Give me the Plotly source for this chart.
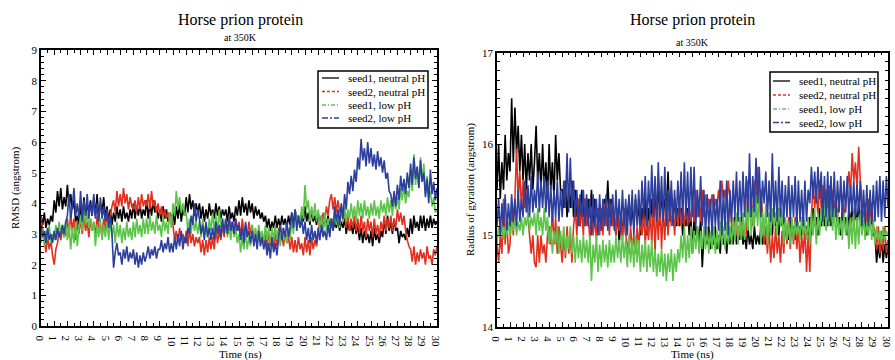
import plotly.graph_objects as go

TIME_STEP_NS = 0.125
SERIES_NAMES = ["seed1, neutral pH", "seed2, neutral pH", "seed1, low pH", "seed2, low pH"]

rmsd_seed1_neutral = [
    3.6, 3.3, 3.7, 3.2, 3.5, 3.3, 3.6, 3.4, 4.1, 3.7, 4.4, 3.9, 4.5, 3.8, 4.2, 3.9,
    4.6, 3.9, 4.3, 3.8, 4.1, 3.4, 3.6, 3.3, 3.9, 3.5, 4.2, 3.6, 4.0, 3.7, 4.1, 3.6,
    4.2, 3.6, 4.3, 3.5, 4.0, 3.7, 4.2, 3.5, 3.9, 3.4, 3.8, 3.3, 3.7, 3.4, 3.9, 3.5,
    3.8, 3.4, 3.9, 3.5, 3.7, 3.4, 3.8, 3.5, 4.0, 3.5, 3.9, 3.6, 4.0, 3.5, 3.8, 3.6,
    4.1, 3.5, 4.0, 3.6, 4.1, 3.7, 3.9, 3.5, 3.8, 3.4, 3.9, 3.5, 3.8, 3.4, 3.7, 3.5,
    3.7, 3.3, 3.9, 3.5, 4.0, 3.4, 3.8, 3.6, 4.2, 3.7, 4.3, 3.8, 4.1, 3.6, 4.0, 3.7,
    4.0, 3.5, 3.9, 3.4, 3.8, 3.5, 4.0, 3.6, 3.8, 3.5, 4.0, 3.6, 3.9, 3.5, 3.8, 3.6,
    3.8, 3.4, 3.9, 3.5, 3.7, 3.4, 3.9, 3.6, 4.1, 3.6, 4.2, 3.7, 4.0, 3.6, 4.1, 3.7,
    4.0, 3.5, 3.9, 3.6, 3.8, 3.5, 3.7, 3.4, 3.6, 3.2, 3.5, 3.1, 3.4, 3.2, 3.6, 3.2,
    3.5, 3.2, 3.6, 3.3, 3.5, 3.2, 3.6, 3.3, 3.7, 3.3, 3.8, 3.4, 3.6, 3.3, 3.7, 3.4,
    3.9, 3.4, 3.7, 3.3, 3.8, 3.4, 3.6, 3.3, 3.7, 3.3, 3.6, 3.2, 3.5, 3.3, 3.6, 3.2,
    3.5, 3.1, 3.4, 3.2, 3.5, 3.1, 3.4, 3.2, 3.5, 3.0, 3.4, 3.1, 3.3, 3.0, 3.4, 3.0,
    3.3, 2.8, 3.2, 2.7, 3.1, 2.8, 3.0, 2.7, 3.1, 2.6, 3.2, 2.8, 3.0, 2.7, 3.1, 2.9,
    3.5, 3.0, 3.6, 3.1, 3.4, 3.0, 3.5, 3.1, 3.2, 2.7, 3.1, 2.9, 3.0, 2.8, 3.2, 2.9,
    3.5, 3.0, 3.6, 3.2, 3.4, 3.1, 3.6, 3.2, 3.6, 3.1, 3.5, 3.2, 3.6, 3.2, 3.5, 3.3,
    3.4]
rmsd_seed2_neutral = [
    3.6, 3.1, 2.8, 2.4, 2.9, 2.5, 2.8, 2.3, 2.0, 2.5, 2.7, 3.1, 2.8, 3.2, 2.9, 3.0,
    3.5, 2.9, 3.7, 3.1, 3.5, 2.8, 3.4, 3.0, 3.5, 3.0, 3.6, 3.1, 3.4, 2.9, 3.5, 3.1,
    3.4, 2.9, 3.6, 3.2, 3.3, 2.9, 3.5, 3.1, 3.7, 3.3, 3.6, 3.9, 4.1, 3.7, 4.4, 3.9,
    4.3, 3.9, 4.5, 4.0, 4.3, 3.8, 4.2, 3.9, 3.8, 4.1, 3.7, 4.2, 3.8, 4.3, 3.9, 4.1,
    3.9, 4.3, 3.8, 4.4, 3.9, 4.1, 3.7, 4.0, 3.6, 3.9, 3.5, 3.8, 3.5, 3.7, 3.4, 3.6,
    3.3, 2.8, 3.1, 2.7, 3.2, 2.8, 3.0, 2.7, 3.1, 2.6, 3.2, 2.7, 3.0, 2.6, 2.9, 2.7,
    2.9, 2.4, 2.8, 2.3, 2.8, 2.4, 2.9, 2.5, 2.9, 2.5, 3.2, 2.7, 3.1, 2.8, 3.3, 2.9,
    3.5, 3.0, 3.6, 3.1, 3.4, 3.0, 3.5, 3.1, 3.4, 2.9, 3.5, 3.0, 3.3, 2.9, 3.4, 3.0,
    3.3, 2.8, 3.1, 2.7, 3.2, 2.8, 3.0, 2.7, 3.0, 2.5, 3.1, 2.6, 2.9, 2.5, 3.0, 2.6,
    3.2, 2.7, 3.0, 2.6, 3.1, 2.7, 2.9, 2.5, 2.9, 2.4, 2.8, 2.4, 2.9, 2.5, 2.7, 2.3,
    2.9, 2.4, 2.8, 2.3, 2.9, 2.5, 2.8, 2.6, 3.0, 3.5, 3.2, 3.7, 3.4, 3.9, 3.6, 4.1,
    4.3, 3.8, 4.2, 3.7, 4.1, 3.7, 3.9, 3.6, 3.7, 3.2, 3.6, 3.1, 3.5, 3.2, 3.6, 3.1,
    3.5, 3.0, 3.6, 3.1, 3.4, 2.9, 3.5, 3.1, 3.4, 2.9, 3.5, 3.0, 3.3, 2.9, 3.4, 3.1,
    3.6, 3.1, 3.5, 3.2, 3.6, 3.1, 3.5, 3.2, 3.8, 3.4, 3.7, 3.3, 3.6, 3.1, 2.8, 2.6,
    2.5, 2.1, 2.6, 2.0, 2.4, 2.1, 2.5, 2.2, 2.4, 2.0, 2.6, 2.2, 2.3, 2.0, 2.5, 2.3,
    2.6]
rmsd_seed1_low = [
    2.7, 3.2, 2.6, 3.1, 2.8, 3.3, 2.7, 3.0, 2.8, 3.3, 2.9, 3.4, 3.0, 3.3, 2.9, 3.4,
    2.8, 3.3, 2.5, 3.2, 2.7, 3.4, 2.6, 3.2, 3.6, 3.1, 3.9, 3.3, 3.7, 3.2, 3.5, 3.1,
    3.4, 2.6, 3.3, 2.9, 3.5, 2.8, 3.3, 2.9, 3.4, 2.8, 3.5, 2.9, 3.3, 2.7, 3.4, 2.9,
    3.3, 2.7, 3.2, 2.8, 3.4, 2.9, 3.2, 2.8, 3.4, 2.9, 3.5, 3.0, 3.3, 2.9, 3.5, 3.0,
    3.5, 3.0, 3.6, 3.1, 3.4, 3.0, 3.6, 3.1, 3.3, 2.9, 3.6, 3.1, 3.4, 3.0, 3.7, 3.2,
    4.0, 3.6, 4.4, 3.8, 4.2, 3.7, 4.0, 3.6, 3.7, 3.1, 3.5, 3.0, 3.6, 3.1, 3.4, 3.0,
    3.4, 2.9, 3.5, 3.0, 3.3, 2.9, 3.5, 3.1, 3.7, 3.1, 3.6, 3.0, 3.8, 3.2, 3.5, 3.0,
    3.5, 2.9, 3.3, 2.8, 3.4, 2.9, 3.2, 2.7, 3.0, 2.4, 2.9, 2.5, 3.1, 2.5, 2.9, 2.6,
    3.3, 2.8, 3.2, 2.7, 3.3, 2.8, 3.1, 2.7, 3.3, 2.8, 3.2, 2.7, 3.2, 2.8, 3.3, 2.8,
    3.1, 2.6, 3.2, 2.8, 3.0, 2.7, 3.2, 2.8, 3.5, 3.0, 3.8, 3.4, 3.6, 3.2, 3.9, 3.5,
    4.6, 3.8, 4.1, 3.4, 3.9, 3.5, 4.0, 3.4, 3.8, 3.2, 3.6, 3.0, 3.7, 3.1, 3.5, 3.0,
    3.5, 3.1, 3.8, 3.3, 3.6, 3.2, 3.8, 3.4, 3.9, 3.4, 3.8, 3.5, 4.0, 3.5, 3.9, 3.4,
    4.1, 3.6, 4.0, 3.5, 4.1, 3.6, 3.9, 3.5, 4.0, 3.6, 4.1, 3.6, 3.9, 3.5, 4.1, 3.7,
    4.0, 3.6, 4.2, 3.7, 4.1, 3.6, 4.2, 3.8, 4.2, 3.8, 4.5, 4.1, 4.6, 4.0, 4.4, 4.2,
    5.1, 4.4, 5.6, 4.6, 5.2, 4.5, 5.5, 4.7, 5.3, 4.3, 4.9, 4.2, 4.4, 3.9, 4.2, 3.7,
    3.8]
rmsd_seed2_low = [
    3.3, 2.9, 3.1, 2.7, 3.2, 2.8, 3.0, 2.7, 3.1, 2.8, 3.2, 2.9, 3.0, 3.3, 3.0, 3.4,
    3.6, 4.3, 3.5, 3.9, 4.5, 3.6, 4.0, 3.5, 4.4, 3.4, 4.1, 3.6, 4.3, 3.5, 4.0, 3.6,
    4.3, 3.5, 4.0, 3.4, 4.2, 3.5, 3.9, 3.4, 3.8, 3.2, 3.6, 3.0, 1.9, 2.4, 2.7, 2.3,
    2.4, 2.0, 2.5, 2.2, 2.6, 2.1, 2.4, 2.2, 2.5, 2.0, 2.4, 1.9, 2.3, 2.0, 2.4, 2.1,
    2.3, 2.6, 2.2, 2.5, 2.3, 2.6, 2.2, 2.5, 2.5, 2.8, 2.4, 2.7, 2.5, 2.9, 2.4, 2.7,
    2.4, 2.9, 2.5, 3.0, 2.6, 3.1, 2.5, 2.9, 2.7, 3.2, 3.0, 3.6, 3.3, 4.0, 3.4, 3.8,
    3.5, 3.0, 3.3, 2.8, 3.4, 2.9, 3.2, 2.8, 3.2, 2.8, 3.4, 3.0, 3.3, 2.9, 3.5, 3.0,
    3.5, 3.0, 3.6, 3.1, 3.4, 3.0, 3.5, 3.1, 3.3, 2.8, 3.2, 2.7, 3.4, 2.9, 3.1, 2.7,
    3.1, 2.6, 3.0, 2.5, 3.1, 2.6, 2.9, 2.5, 2.8, 2.3, 2.7, 2.2, 2.9, 2.4, 2.7, 2.3,
    2.9, 3.3, 2.8, 3.2, 2.9, 3.4, 2.9, 3.2, 3.7, 3.2, 3.8, 3.1, 3.6, 3.2, 3.5, 3.0,
    3.4, 2.8, 3.2, 2.7, 3.3, 2.8, 3.1, 2.7, 3.2, 2.8, 3.3, 2.9, 3.1, 2.8, 3.3, 2.9,
    3.5, 3.1, 3.9, 3.4, 3.8, 3.3, 4.0, 3.5, 4.3, 3.8, 4.7, 4.3, 4.9, 4.4, 5.1, 4.7,
    5.5, 5.1, 6.1, 5.4, 5.8, 5.2, 6.0, 5.3, 5.8, 5.2, 5.6, 5.1, 5.7, 5.2, 5.5, 5.0,
    5.4, 4.8, 5.0, 4.4, 4.3, 3.9, 4.4, 3.9, 4.6, 4.1, 4.9, 4.4, 4.8, 4.3, 5.0, 4.5,
    5.3, 4.6, 5.5, 4.8, 5.2, 4.5, 5.4, 4.7, 5.0, 4.2, 4.8, 4.0, 5.1, 4.3, 4.7, 4.1,
    4.5]

rg_seed1_neutral = [
    15.5, 16.0, 15.4, 15.8, 15.5, 16.1, 15.6, 15.9, 15.7, 16.5, 15.8, 16.4, 15.9, 16.2, 15.7, 16.1,
    15.6, 16.0, 15.5, 15.9, 15.6, 16.0, 15.5, 15.8, 16.2, 15.6, 15.9, 15.5, 16.0, 15.5, 15.8, 15.4,
    16.0, 15.5, 15.8, 15.4, 16.1, 15.6, 15.9, 15.5, 15.5, 15.3, 15.6, 15.2, 15.5, 15.3, 15.6, 15.2,
    15.5, 15.2, 15.4, 15.1, 15.5, 15.2, 15.4, 15.2, 15.4, 15.2, 15.5, 15.1, 15.4, 15.2, 15.3, 15.1,
    15.3, 15.1, 15.4, 15.2, 15.6, 15.2, 15.4, 15.1, 15.2, 15.0, 15.3, 14.9, 15.2, 15.0, 15.3, 15.0,
    15.2, 15.4, 15.1, 15.3, 15.1, 15.4, 15.2, 15.3, 15.0, 15.3, 15.1, 15.4, 15.0, 15.3, 15.1, 15.4,
    15.1, 15.5, 15.2, 15.6, 15.1, 15.5, 15.2, 15.4, 15.3, 15.7, 15.2, 15.5, 15.2, 15.4, 15.1, 15.3,
    15.1, 15.3, 15.0, 15.2, 15.1, 15.3, 15.0, 15.2, 14.8, 15.2, 15.0, 15.1, 14.9, 15.2, 14.65, 15.0,
    15.0, 14.9, 15.1, 14.85, 15.0, 14.9, 15.1, 14.85, 15.0, 14.8, 15.1, 14.9, 15.0, 14.8, 15.1, 14.9,
    15.1, 14.9, 15.2, 14.9, 15.1, 14.95, 15.2, 14.9, 15.0, 14.85, 15.1, 14.9, 15.0, 14.85, 15.1, 14.9,
    15.0, 14.9, 15.1, 14.9, 15.0, 14.9, 15.1, 14.95, 15.2, 15.0, 15.3, 15.1, 15.2, 15.0, 15.3, 15.1,
    15.2, 15.0, 15.1, 14.95, 15.2, 15.0, 15.1, 14.95, 15.2, 15.0, 15.1, 15.0, 15.2, 15.0, 15.1, 15.0,
    15.2, 15.0, 15.3, 15.1, 15.2, 15.0, 15.3, 15.1, 15.3, 15.1, 15.4, 15.1, 15.3, 15.1, 15.4, 15.2,
    15.3, 15.1, 15.2, 15.0, 15.3, 15.1, 15.2, 15.0, 15.3, 15.1, 15.35, 15.1, 15.3, 15.1, 15.35, 15.15,
    15.3, 15.1, 15.2, 15.0, 15.3, 15.1, 15.2, 15.0, 15.0, 14.7, 14.9, 14.75, 15.0, 14.7, 14.9, 14.75,
    14.9]
rg_seed2_neutral = [
    14.9, 14.7, 15.0, 14.8, 15.4, 14.9, 15.2, 14.8, 14.9, 15.3, 15.0, 15.4, 15.95, 15.4, 15.7, 15.3,
    15.6, 15.3, 15.5, 15.2, 15.0, 14.8, 15.0, 14.7, 14.65, 15.0, 14.7, 15.0, 14.8, 14.9, 14.7, 15.0,
    15.1, 14.9, 15.3, 14.9, 15.2, 14.8, 15.1, 14.9, 14.7, 15.0, 14.75, 15.1, 14.8, 15.0, 14.7, 15.1,
    15.3, 15.0, 15.4, 15.1, 15.3, 15.0, 15.4, 15.1, 15.2, 14.95, 15.3, 15.0, 15.2, 14.95, 15.3, 15.0,
    15.3, 15.0, 15.35, 15.1, 15.3, 15.0, 15.35, 15.1, 15.2, 15.0, 15.3, 15.05, 15.2, 14.95, 15.3, 15.0,
    14.9, 14.8, 15.1, 14.85, 15.0, 14.8, 15.1, 14.85, 15.2, 15.0, 15.25, 14.9, 15.2, 14.95, 15.25, 14.9,
    15.4, 14.8, 15.3, 14.95, 15.4, 14.85, 15.3, 14.95, 15.35, 15.0, 15.3, 15.1, 15.35, 15.0, 15.3, 15.1,
    15.35, 15.1, 15.3, 15.1, 15.35, 15.1, 15.3, 15.15, 15.4, 15.15, 15.5, 15.2, 15.4, 15.15, 15.5, 15.2,
    15.45, 15.25, 15.4, 15.3, 15.45, 15.25, 15.4, 15.3, 15.5, 15.35, 15.6, 15.4, 15.5, 15.35, 15.6, 15.4,
    15.1, 15.0, 15.15, 15.0, 15.1, 15.0, 15.15, 15.0, 15.1, 15.0, 15.6, 15.2, 15.4, 15.1, 15.6, 15.2,
    15.75, 15.3, 15.5, 15.2, 14.9, 15.1, 14.8, 15.1, 14.7, 15.0, 14.75, 15.1, 14.8, 15.0, 14.7, 15.05,
    14.8, 15.15, 14.9, 15.2, 14.85, 15.15, 14.9, 15.2, 14.85, 15.1, 14.7, 15.0, 14.8, 15.1, 14.6, 15.0,
    14.6, 15.2, 15.6, 15.3, 15.5, 15.2, 15.6, 15.3, 15.55, 15.25, 15.5, 15.3, 15.55, 15.25, 15.5, 15.3,
    15.4, 15.2, 15.35, 15.5, 15.4, 15.2, 15.35, 15.5, 15.7, 15.45, 15.9, 15.6, 15.8, 15.5, 15.97, 15.6,
    15.4, 15.15, 15.35, 15.1, 15.4, 15.15, 15.35, 15.1, 15.05, 14.85, 15.1, 14.8, 15.05, 14.85, 15.1, 14.8,
    14.95]
rg_seed1_low = [
    14.9, 15.1, 15.0, 15.1, 14.95, 15.1, 15.0, 15.15, 15.0, 15.15, 15.05, 15.2, 15.0, 15.15, 15.05, 15.2,
    15.0, 15.2, 15.1, 15.25, 15.05, 15.2, 15.1, 15.25, 15.0, 15.3, 15.05, 15.2, 15.0, 15.3, 15.05, 15.2,
    14.9, 15.1, 14.8, 15.05, 14.9, 15.1, 14.8, 15.05, 14.85, 15.1, 14.8, 15.0, 14.85, 15.1, 14.8, 15.0,
    14.7, 15.0, 14.75, 14.95, 14.7, 15.0, 14.75, 14.95, 14.7, 15.0, 14.5, 14.9, 14.7, 15.0, 14.6, 14.9,
    14.65, 14.95, 14.7, 14.9, 14.65, 14.95, 14.7, 14.9, 14.7, 15.0, 14.75, 14.95, 14.7, 15.0, 14.75, 14.95,
    14.65, 15.0, 14.7, 14.95, 14.65, 15.0, 14.7, 14.95, 14.6, 14.9, 14.65, 14.95, 14.6, 14.9, 14.65, 14.95,
    14.6, 14.85, 14.55, 14.8, 14.6, 14.85, 14.55, 14.8, 14.5, 14.8, 14.6, 14.85, 14.5, 14.8, 14.6, 14.85,
    14.7, 15.0, 14.75, 15.1, 14.7, 15.0, 14.75, 15.1, 14.8, 15.05, 14.85, 15.1, 14.8, 15.05, 14.85, 15.1,
    14.85, 15.1, 14.8, 15.05, 14.85, 15.1, 14.8, 15.05, 14.85, 15.15, 14.9, 15.1, 14.85, 15.15, 14.9, 15.1,
    14.9, 15.2, 14.95, 15.25, 14.9, 15.2, 14.95, 15.25, 14.95, 15.3, 15.05, 15.45, 15.0, 15.3, 15.1, 15.45,
    15.1, 15.5, 14.9, 15.25, 15.0, 15.35, 14.9, 15.25, 15.0, 15.3, 15.1, 15.25, 15.0, 15.3, 15.1, 15.25,
    14.9, 15.2, 14.95, 15.15, 14.9, 15.2, 14.95, 15.15, 15.0, 15.15, 14.95, 15.2, 15.0, 15.15, 14.95, 15.2,
    14.9, 15.25, 15.0, 15.3, 14.9, 15.25, 15.0, 15.3, 15.1, 15.4, 15.05, 15.3, 15.1, 15.4, 15.05, 15.3,
    14.95, 15.25, 15.0, 15.2, 14.95, 15.25, 15.0, 15.2, 14.85, 15.2, 14.9, 15.25, 14.85, 15.2, 14.9, 15.25,
    15.0, 15.2, 14.95, 15.15, 15.0, 15.2, 14.95, 15.15, 14.9, 15.1, 14.95, 15.05, 14.9, 15.1, 14.95, 15.05,
    15.0]
rg_seed2_low = [
    15.1, 15.4, 15.0, 15.35, 15.1, 15.45, 15.05, 15.35, 15.1, 15.45, 15.15, 15.4, 15.1, 15.5, 15.15, 15.4,
    15.2, 15.6, 15.25, 15.55, 15.2, 15.65, 15.25, 15.5, 15.3, 15.7, 15.25, 15.6, 15.3, 15.65, 15.25, 15.6,
    15.2, 15.55, 15.15, 15.5, 15.2, 15.6, 15.15, 15.5, 15.2, 15.6, 15.3, 15.9, 15.25, 15.85, 15.3, 15.6,
    15.2, 15.5, 15.1, 15.45, 15.2, 15.5, 15.1, 15.45, 15.1, 15.4, 15.0, 15.45, 15.1, 15.4, 15.0, 15.45,
    15.05, 15.4, 15.1, 15.45, 15.05, 15.4, 15.1, 15.45, 15.05, 15.5, 15.1, 15.4, 15.05, 15.5, 15.1, 15.4,
    15.0, 15.45, 15.1, 15.5, 15.0, 15.45, 15.1, 15.5, 15.1, 15.6, 15.2, 15.65, 15.1, 15.6, 15.2, 15.77,
    15.2, 15.65, 15.15, 15.8, 15.2, 15.65, 15.15, 15.75, 15.1, 15.5, 15.15, 15.6, 15.1, 15.5, 15.15, 15.6,
    15.2, 15.7, 15.15, 15.8, 15.2, 15.7, 15.15, 15.75, 15.2, 15.75, 15.1, 15.5, 15.2, 15.65, 15.1, 15.5,
    15.0, 15.45, 15.1, 15.4, 15.0, 15.45, 15.1, 15.4, 15.05, 15.6, 15.0, 15.5, 15.05, 15.6, 15.0, 15.5,
    15.15, 15.6, 15.2, 15.7, 15.15, 15.6, 15.2, 15.7, 15.2, 15.65, 15.25, 15.9, 15.2, 15.65, 15.25, 15.85,
    15.35, 15.75, 15.2, 15.6, 15.35, 15.7, 15.2, 15.6, 15.15, 15.9, 15.2, 15.6, 15.15, 15.75, 15.2, 15.6,
    15.15, 15.55, 15.2, 15.65, 15.15, 15.55, 15.2, 15.65, 15.1, 15.6, 15.15, 15.5, 15.1, 15.6, 15.15, 15.5,
    15.35, 15.75, 15.4, 15.7, 15.35, 15.75, 15.4, 15.7, 15.15, 15.65, 15.2, 15.7, 15.15, 15.65, 15.2, 15.7,
    15.2, 15.6, 15.25, 15.65, 15.2, 15.6, 15.25, 15.65, 15.2, 15.55, 15.25, 15.6, 15.2, 15.55, 15.25, 15.6,
    15.1, 15.5, 15.15, 15.55, 15.1, 15.5, 15.15, 15.55, 15.15, 15.6, 15.2, 15.65, 15.15, 15.6, 15.2, 15.65,
    15.3]

X_TICKS = list(range(0, 31))
RMSD_TICKS = list(range(0, 10))
RG_TICKS = [14, 15, 16, 17]

# ---------------- styling ----------------
COLORS = ["#000000", "#e2301f", "#5cc449", "#2d3f9e"]
DASHES = ["solid", "3px,2px", "4px,2px,1px,2px", "6px,2px,2px,2px"]
FONT = "Liberation Serif, Times New Roman, serif"
W, H = 895, 360
LINE_W = 1.6

time_ns = [i * TIME_STEP_NS for i in range(len(rmsd_seed1_neutral))]

fig = go.Figure()
rmsd_sets = [rmsd_seed1_neutral, rmsd_seed2_neutral, rmsd_seed1_low, rmsd_seed2_low]
rg_sets = [rg_seed1_neutral, rg_seed2_neutral, rg_seed1_low, rg_seed2_low]

for k, (name, vals) in enumerate(zip(SERIES_NAMES, rmsd_sets)):
    fig.add_trace(go.Scatter(x=time_ns, y=vals, mode="lines", name=name, showlegend=False,
                             line=dict(color=COLORS[k], width=LINE_W, simplify=False),
                             xaxis="x", yaxis="y"))
for k, (name, vals) in enumerate(zip(SERIES_NAMES, rg_sets)):
    fig.add_trace(go.Scatter(x=time_ns, y=vals, mode="lines", name=name, showlegend=False,
                             line=dict(color=COLORS[k], width=LINE_W, simplify=False),
                             xaxis="x2", yaxis="y2"))


def axis_common():
    return dict(showline=True, linecolor="black", linewidth=1.5, mirror="allticks",
                ticks="inside", ticklen=5, tickwidth=1, tickcolor="black",
                showgrid=False, zeroline=False, automargin=False,
                tickfont=dict(family=FONT, size=11, color="black"))


xa = axis_common()
xa.update(range=[0, 30], tickvals=X_TICKS, domain=[41 / W, 437 / W], anchor="y",
          minor=dict(ticks="inside", ticklen=3, dtick=0.5, tickcolor="black"))
xa2 = axis_common()
xa2.update(range=[0, 30], tickvals=X_TICKS, domain=[497 / W, 888 / W], anchor="y2",
           minor=dict(ticks="inside", ticklen=3, dtick=0.5, tickcolor="black"))
ya = axis_common()
ya.update(range=[0, 9], tickvals=RMSD_TICKS, domain=[1 - 326 / H, 1 - 50 / H], anchor="x",
          minor=dict(ticks="inside", ticklen=3, dtick=0.2, tickcolor="black"))
ya2 = axis_common()
ya2.update(range=[14, 17], tickvals=RG_TICKS, domain=[1 - 326.7 / H, 1 - 52.7 / H], anchor="x2",
           minor=dict(ticks="inside", ticklen=3, dtick=0.1, tickcolor="black"))


def ann(text, x, y, size, angle=0, xanchor="center"):
    return dict(text=text, x=x / W, y=1 - y / H, xref="paper", yref="paper",
                showarrow=False, xanchor=xanchor, yanchor="middle", textangle=angle,
                font=dict(family=FONT, size=size, color="black"))


annotations = [
    ann("Horse prion protein", 240, 20, 16),
    ann("at 350K", 240, 38, 10),
    ann("Horse prion protein", 692, 20, 16),
    ann("at 350K", 692, 42, 10),
    ann("Time (ns)", 240, 354, 11),
    ann("Time (ns)", 692, 354, 11),
    ann("RMSD (angstrom)", 15, 188, 11, -90),
    ann("Radius of gyration (angstrom)", 470, 190, 11, -90),
]
shapes = []

# hand-drawn legend boxes (box, line-style sample, label)
LEGENDS = [
    dict(box=(318, 428, 71, 128), rows=[78, 91.5, 105, 118], sample=(322, 339), text_x=346),
    dict(box=(770, 878, 72, 132), rows=[81, 95, 109, 122.5], sample=(773, 790), text_x=797),
]
for lg in LEGENDS:
    x0, x1, y0, y1 = lg["box"]
    shapes.append(dict(type="rect", xref="paper", yref="paper",
                       x0=x0 / W, x1=x1 / W, y0=1 - y0 / H, y1=1 - y1 / H,
                       line=dict(color="black", width=1.5), fillcolor="white", layer="above"))
    for k, name in enumerate(SERIES_NAMES):
        ry = lg["rows"][k]
        sx0, sx1 = lg["sample"]
        shapes.append(dict(type="line", xref="paper", yref="paper",
                           x0=sx0 / W, x1=sx1 / W, y0=1 - ry / H, y1=1 - ry / H,
                           line=dict(color=COLORS[k], width=1.3, dash=DASHES[k]), layer="above"))
        annotations.append(ann(name, lg["text_x"], ry, 11, xanchor="left"))

fig.update_layout(
    width=W, height=H,
    margin=dict(l=0, r=0, t=0, b=0),
    paper_bgcolor="white", plot_bgcolor="white",
    showlegend=False,
    xaxis=xa, yaxis=ya, xaxis2=xa2, yaxis2=ya2,
    annotations=annotations,
    shapes=shapes,
)

fig.write_html("out.html")
